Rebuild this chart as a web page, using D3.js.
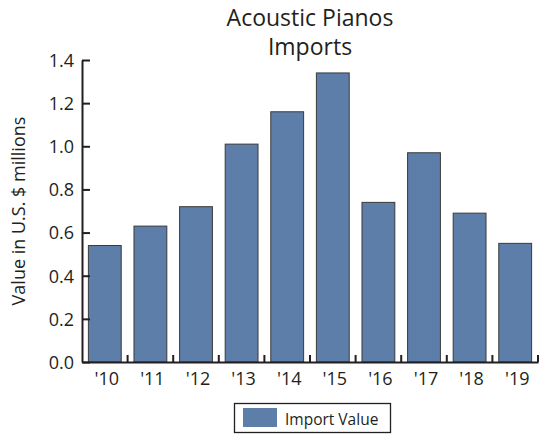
<!DOCTYPE html>
<html><head><meta charset="utf-8">
<script src="https://cdn.jsdelivr.net/npm/d3@7"></script>
<style>
body{margin:0;background:#fff;}
text{font-family:"Open Sans",sans-serif;fill:#231f20;}
</style></head>
<body><svg id="c" width="539" height="435"></svg>
<script>
const categories = ["'10","'11","'12","'13","'14","'15","'16","'17","'18","'19"];
const importValues = [0.54,0.63,0.72,1.01,1.16,1.34,0.74,0.97,0.69,0.55];
const yTicks = [0.0,0.2,0.4,0.6,0.8,1.0,1.2,1.4];
const titleLines = ["Acoustic Pianos","Imports"];
const yLabel = "Value in U.S. $ millions";
const legendLabel = "Import Value";

(function(){
const svg = d3.select("#c");
const mLeft = 82, mRight = 538, mTop = 60, mBottom = 362;
const x = d3.scaleBand().domain(categories).range([mLeft,mRight]).paddingInner(0.28).paddingOuter(0.14);
const xb = d3.scaleBand().domain(categories).range([mLeft,mRight]);
const y = d3.scaleLinear().domain([0,1.4]).range([mBottom,mTop]);

svg.selectAll("rect.bar").data(importValues).join("rect")
  .attr("class","bar")
  .attr("x",(d,i)=>x(categories[i]))
  .attr("width",x.bandwidth())
  .attr("y",d=>y(d))
  .attr("height",d=>y(0)-y(d))
  .attr("fill","#5d7ea8").attr("stroke","#3a3a3a").attr("stroke-width",1);

const ya = svg.append("g").attr("transform",`translate(${mLeft},0)`)
  .call(d3.axisRight(y).tickValues(yTicks).tickFormat(d3.format(".1f")).tickSize(8).tickSizeOuter(0));
ya.select(".domain").attr("stroke","#231f20").attr("stroke-width",2);
ya.selectAll(".tick line").attr("stroke","#231f20").attr("stroke-width",2);
ya.selectAll(".tick text").attr("x",-8).attr("text-anchor","end").attr("font-size",18).attr("dy","0.35em");

const xa = svg.append("g").attr("transform",`translate(0,${mBottom})`)
  .call(d3.axisTop(xb).tickSize(0).tickSizeOuter(0));
xa.select(".domain").attr("stroke","#231f20").attr("stroke-width",2);
xa.selectAll(".tick text").attr("y",17).attr("dy","0.35em").attr("font-size",18).attr("dx",2);
const bounds = categories.map(c=>xb(c)+xb.bandwidth());
svg.append("g").selectAll("line").data(bounds).join("line")
  .attr("x1",d=>d).attr("x2",d=>d).attr("y1",mBottom).attr("y2",mBottom-7)
  .attr("stroke","#231f20").attr("stroke-width",2);

const cx = (mLeft+mRight)/2;
svg.append("text").attr("text-anchor","middle").attr("font-size",23)
  .selectAll("tspan").data(titleLines).join("tspan")
  .attr("x",cx).attr("y",(d,i)=>26+i*29).text(d=>d);

svg.append("text").attr("transform","translate(25,211) rotate(-90)")
  .attr("text-anchor","middle").attr("font-size",18).text(yLabel);

const lg = svg.append("g");
lg.append("rect").attr("x",234.5).attr("y",403.5).attr("width",156).attr("height",29)
  .attr("fill","#fff").attr("stroke","#231f20").attr("stroke-width",1.3);
lg.append("rect").attr("x",243).attr("y",408).attr("width",34).attr("height",19).attr("fill","#5d7ea8");
lg.append("text").attr("x",285).attr("y",424.5).attr("font-size",15.5).text(legendLabel);
})();
</script></body></html>
